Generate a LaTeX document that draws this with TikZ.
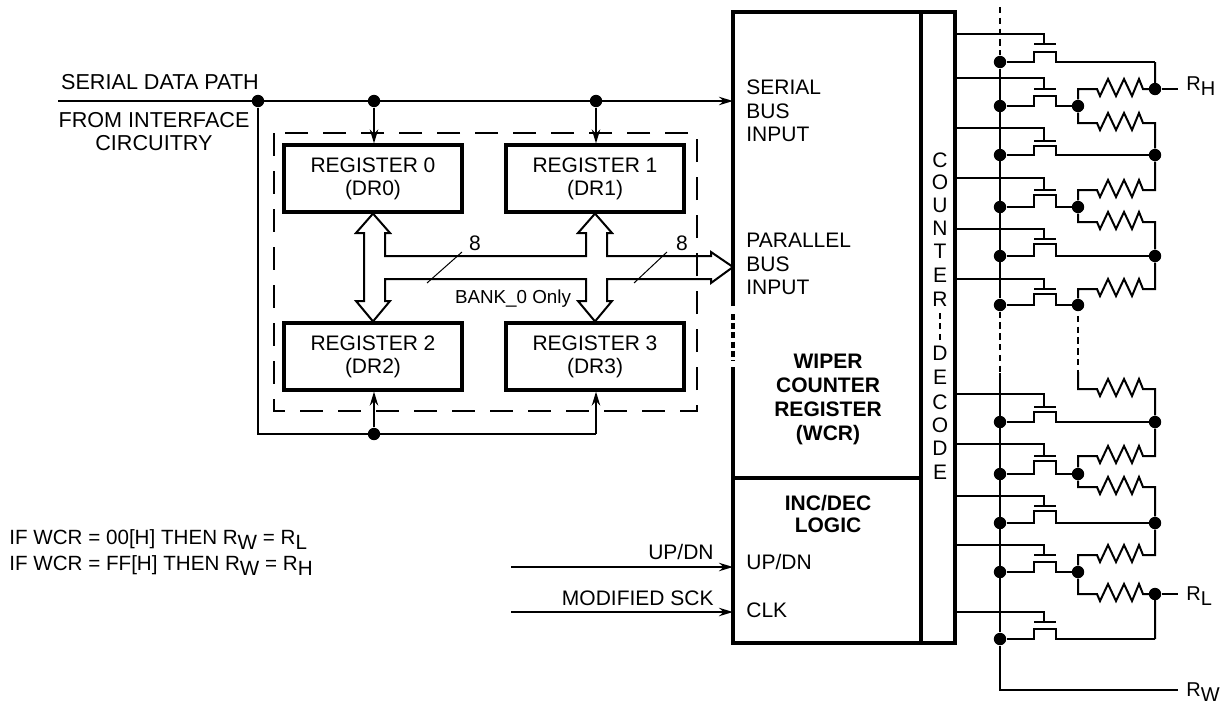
\documentclass[tikz,border=0pt]{standalone}
\usepackage{fontspec}
\setmainfont{Liberation Sans}
\usetikzlibrary{arrows.meta}
\newcommand{\sbs}[1]{\raisebox{-2.5pt}{#1}}
\tikzset{
  wire/.style={line width=1pt},
  thick box/.style={line width=1.6pt},
  tip/.style={-{Stealth[length=7pt,width=4.2pt]}},
  dot/.style={circle,fill,inner sep=0pt,minimum size=6.2pt},
  txt/.style={inner sep=0pt,font=\fontsize{10.5}{11.8}\selectfont,align=left,anchor=west},
  ctr/.style={inner sep=0pt,font=\fontsize{10.5}{11.5}\selectfont,align=center},
  reg/.style={draw,thick box,inner sep=0pt,minimum width=89pt,minimum height=33.5pt,align=center,font=\fontsize{10.5}{11.5}\selectfont},
  pin/.style={txt,inner sep=4pt,font=\fontsize{10}{11}\selectfont},
  wiredash/.style={wire,dash pattern=on 3.2pt off 2.2pt}
}
\begin{document}
\begin{tikzpicture}[x=0.5pt,y=-0.5pt]
\useasboundingbox (0,0) rectangle (1220,707);
% left side
\coordinate (serialin) at (58,101);
\coordinate (wcrin) at (733,101);
\coordinate (feedback) at (258,434);
\coordinate (feedright) at (596,434);
\node[dot] (tap0) at (258,101) {};
\node[dot] (tap1) at (374,101) {};
\node[dot] (tap2) at (596,101) {};
\node[dot] (tap3) at (374,434) {};
\node[reg] (DR0) at (373,178.5) {REGISTER 0\\(DR0)};
\node[reg] (DR1) at (595,178.5) {REGISTER 1\\(DR1)};
\node[reg] (DR2) at (373,356.5) {REGISTER 2\\(DR2)};
\node[reg] (DR3) at (595,356.5) {REGISTER 3\\(DR3)};
\draw[wire,tip] (serialin)--(wcrin);
\draw[wire] (tap0)--(feedback)--(feedright);
\draw[wire,tip] (tap1)--(tap1|-DR0.north);
\draw[wire,tip] (tap2)--(tap2|-DR1.north);
\draw[wire,tip] (tap3)--(tap3|-DR2.south);
\draw[wire,tip] (feedright)--(feedright|-DR3.south);
\node[ctr,font=\fontsize{10.8}{11.5}\selectfont] (serialtxt) at (160,82) {SERIAL DATA PATH};
\node[ctr,font=\fontsize{10.8}{11.5}\selectfont] (fromtxt) at (154,132) {FROM INTERFACE\\CIRCUITRY};
% 8 bit bus
\coordinate (wcrbus) at (733,267);
\draw[wire,fill=white] (DR0.south)--(390,233)--(385,233)--(385,256)--(586,256)--(586,233)--(578,233)--(DR1.south)--(612,233)--(607,233)--(607,256)--(711,256)--(711,252)--(wcrbus)--(711,283)--(711,279)--(607,279)--(607,301)--(612,301)--(DR3.north)--(578,301)--(586,301)--(586,279)--(385,279)--(385,301)--(390,301)--(DR2.north)--(356,301)--(364,301)--(364,233)--(356,233)--cycle;
\coordinate (slash1a) at (427,283);
\coordinate (slash1b) at (462,252);
\coordinate (slash2a) at (634,283);
\coordinate (slash2b) at (667,252);
\draw[line width=0.5pt] (slash1a)--(slash1b);
\draw[line width=0.5pt] (slash2a)--(slash2b);
\node[ctr] (width1) at (475,243) {8};
\node[ctr] (width2) at (682,243) {8};
\node[ctr,font=\fontsize{9.4}{11}\selectfont] (banktxt) at (513,299) {BANK\_0 Only};
\coordinate (bankNW) at (274,133);
\coordinate (bankSE) at (697,411);
\draw[wire,dash pattern=on 11.5pt off 7.5pt] (bankNW) rectangle (bankSE);
% wcr block
\coordinate (wcrNW) at (733,12);
\coordinate (wcrNE) at (921,12);
\coordinate (wcrSW) at (733,643);
\coordinate (wcrSE) at (921,643);
\coordinate (decNE) at (955,12);
\coordinate (decSE) at (955,643);
\coordinate (gap1) at (733,306);
\coordinate (gap2) at (733,367);
\coordinate (logicW) at (733,478);
\coordinate (logicE) at (921,478);
\draw[thick box] (gap1)--(wcrNW)--(decNE)--(decSE)--(wcrSW)--(gap2);
\draw[thick box,dash pattern=on 3pt off 1.6pt] (733,314)--(733,361);
\draw[thick box] (wcrNE)--(wcrSE);
\draw[thick box] (logicW)--(logicE);
\node[txt] (serialbus) at (746,111) {SERIAL\\BUS\\INPUT};
\node[txt] (parallelbus) at (746,264) {PARALLEL\\BUS\\INPUT};
\node[ctr,font=\fontsize{10.5}{12}\selectfont\bfseries] (wcrtxt) at (828,399) {WIPER\\COUNTER\\REGISTER\\(WCR)};
\node[ctr,font=\fontsize{10.5}{10.7}\selectfont\bfseries] (logictxt) at (828,514) {INC/DEC\\LOGIC};
\node[txt] (updnin) at (746,562) {UP/DN};
\node[txt] (clkin) at (746,610) {CLK};
\coordinate (upstart) at (511,567);
\coordinate (clkstart) at (511,612);
\draw[wire,tip] (upstart)--(upstart-|wcrSW);
\draw[wire,tip] (clkstart)--(clkstart-|wcrSW);
\node[txt,anchor=east] (updntxt) at (714,552) {UP/DN};
\node[txt,anchor=east] (scktxt) at (714,598) {MODIFIED SCK};
\node[txt,font=\fontsize{10.3}{11}\selectfont] (rule0) at (9,540) {IF WCR = 00[H] THEN R\sbs{W} = R\sbs{L}};
\node[txt,font=\fontsize{10.3}{11}\selectfont] (rule1) at (9,566) {IF WCR = FF[H] THEN R\sbs{W} = R\sbs{H}};
% counter decode
\foreach \ch/\yc in {C/160,O/182,U/205,N/228,T/251,E/275,R/299,D/353,E/377,C/402,O/425,D/448,E/472}
  \node[ctr] (dec\yc) at (940,\yc) {\ch};
\draw[wire,dash pattern=on 3pt off 2.2pt] (dec299)++(0,14)--(940,340);
% transistors
\foreach \n/\ygate/\yplate/\ychan/\ysd/\xout in {1/34/44/52/62/1155,2/78/89/96/106/1078,3/128/141/146/155/1155,4/178/190/195/207/1078,5/229/239/244/256/1155,6/279/289/294/305/1078,7/394/407/412/422/1155,8/444/456/461/474/1078,9/496/506/511/523/1155,10/545/555/562/572/1078,11/612/622/629/639/1155}{
  \node[dot] (bus\n) at (1000,\ysd) {};
  \coordinate (out\n) at (\xout,\ysd);
  \draw[wire] (955,\ygate)--(1044,\ygate)--(1044,\yplate);
  \draw[wire] (1034,\yplate)--(1056,\yplate);
  \draw[wire] (bus\n)--(1034,\ysd)--(1034,\ychan)--(1056,\ychan)--(1056,\ysd)--(out\n);
}
\foreach \n in {2,4,6,8,10}
  \node[dot] (node\n) at (out\n) {};
\foreach \n in {3,5,7,9}
  \node[dot] (node\n) at (out\n) {};
% resistors
\coordinate (stub) at (1078,372);
\foreach \y/\from/\to in {89/node2/out1,123/node2/node3,190/node4/node3,222/node4/node5,289/node6/node5,389/stub/node7,456/node8/node7,487/node8/node9,555/node10/node9,594/node10/out11}
  \draw[wire] (\from)|-(1097,\y)--(1100,\y+7)--(1108,\y-10)--(1116,\y+7)--(1124,\y-10)--(1132,\y+7)--(1139,\y-10)--(1143,\y)-|(\to);
% bus rails
\node[dot] (hi) at (1155,89) {};
\node[dot] (lo) at (1155,594) {};
\node[pin] (RH) at (1178,86) {R\sbs{H}};
\node[pin] (RL) at (1178,596) {R\sbs{L}};
\node[pin] (RW) at (1178,692) {R\sbs{W}};
\coordinate (railtop) at (1000,7);
\coordinate (railgap) at (1000,373);
\coordinate (nodegap) at (1078,305);
\coordinate (wiperend) at (1178,690);
\draw[wire] (hi)--(hi-|RH.west);
\draw[wire] (lo)--(lo-|RL.west);
\draw[wire] (bus1)--(bus6);
\draw[wire] (railgap)--(bus11);
\draw[wire] (bus11)|-(wiperend);
\draw[wiredash] (railtop)--(bus1);
\draw[wiredash] (bus6)--(railgap);
\draw[wiredash] (nodegap)--(stub);
\end{tikzpicture}
\end{document}
